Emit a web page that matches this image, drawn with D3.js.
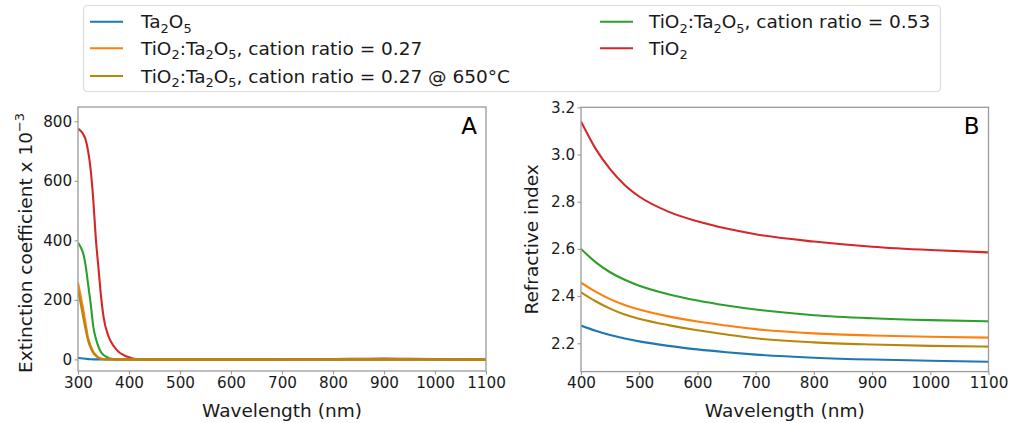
<!DOCTYPE html>
<html>
<head>
<meta charset="utf-8">
<script src="https://cdn.jsdelivr.net/npm/d3@7"></script>
<style>
  html, body { margin: 0; padding: 0; background: #fff; }
  svg { display: block; font-family: "DejaVu Sans", sans-serif; }
</style>
</head>
<body>
<svg id="chart" width="1011" height="423"></svg>
<script>
// ---- Panel A: extinction coefficient (x 10^-3) vs wavelength ----
const kWavelength = [300, 305, 310, 315, 320, 325, 330, 335, 340, 345, 350, 360, 370, 380, 390, 400, 410, 420, 450, 500, 600, 700, 800, 850, 900, 950, 1000, 1050, 1100];
const kTa2O5      = [5, 4, 3, 2, 1, 0.5, 0, 0, 0, 0, 0, 0, 0, 0, 0, 0, 0, 0, 0, 0, 0, 0, 0, 0, 0, 0, 0, 0, 0];
const kMix027     = [258, 215, 170, 120, 71, 45, 26, 15, 7, 3, 1, 0, 0, 0, 0, 0, 0, 0, 0, 0, 0, 0, 0, 0, 0, 0, 0, 0, 0];
const kMix027at650 = [235, 190, 145, 100, 62, 38, 22, 12, 5, 2, 0.5, 0, 0, 0, 0, 0, 0, 0, 0, 0, 0, 0, 0, 0, 0, 0, 0, 0, 0];
const kMix053     = [392, 378, 357, 315, 250, 185, 110, 70, 43, 25, 15, 5, 1, 0, 0, 0, 0, 0, 0, 0, 0, 0, 0, 0, 0, 0, 0, 0, 0];
const kTiO2       = [775, 768, 757, 738, 698, 635, 535, 405, 310, 215, 144, 77, 45, 25, 14, 7, 2, 0, 0, 0, 0, 0, 1, 2, 3, 2, 1, 0, 0];

// ---- Panel B: refractive index vs wavelength ----
const nWavelength = [400, 425, 450, 475, 500, 550, 600, 650, 700, 800, 900, 1000, 1100];
const nTa2O5      = [2.275, 2.253, 2.235, 2.220, 2.208, 2.189, 2.174, 2.162, 2.152, 2.139, 2.131, 2.126, 2.122];
const nMix027     = [2.457, 2.419, 2.387, 2.362, 2.343, 2.314, 2.292, 2.275, 2.260, 2.242, 2.233, 2.228, 2.224];
const nMix027at650 = [2.416, 2.378, 2.347, 2.322, 2.304, 2.277, 2.255, 2.237, 2.221, 2.204, 2.195, 2.189, 2.186];
const nMix053     = [2.600, 2.544, 2.501, 2.469, 2.444, 2.408, 2.381, 2.360, 2.343, 2.319, 2.306, 2.298, 2.293];
const nTiO2       = [3.140, 3.025, 2.938, 2.871, 2.822, 2.758, 2.717, 2.686, 2.662, 2.631, 2.609, 2.595, 2.585];

// ---- Ticks ----
const kXTicks = [300, 400, 500, 600, 700, 800, 900, 1000, 1100];
const kYTicks = [0, 200, 400, 600, 800];
const nXTicks = [400, 500, 600, 700, 800, 900, 1000, 1100];
const nYTicks = [2.2, 2.4, 2.6, 2.8, 3.0, 3.2];

// ---- Series labels (rich text: [text, "sub"|"sup"|undefined]) ----
const seriesNames = ["Ta2O5", "TiO2:Ta2O5 0.27", "TiO2:Ta2O5 0.27 650", "TiO2:Ta2O5 0.53", "TiO2"];
const seriesColors = ["#1f77b4", "#ff7f0e", "#b8860b", "#2ca02c", "#d62728"];
const seriesLabels = [
  [["Ta"], ["2", "sub"], ["O"], ["5", "sub"]],
  [["TiO"], ["2", "sub"], [":Ta"], ["2", "sub"], ["O"], ["5", "sub"], [", cation ratio = 0.27"]],
  [["TiO"], ["2", "sub"], [":Ta"], ["2", "sub"], ["O"], ["5", "sub"], [", cation ratio = 0.27 @ 650°C"]],
  [["TiO"], ["2", "sub"], [":Ta"], ["2", "sub"], ["O"], ["5", "sub"], [", cation ratio = 0.53"]],
  [["TiO"], ["2", "sub"]]
];

const kSeries = [kTa2O5, kMix027, kMix027at650, kMix053, kTiO2];
const nSeries = [nTa2O5, nMix027, nMix027at650, nMix053, nTiO2];

const svg = d3.select("#chart");
const frameColor = "#9a9a9a";
const textColor = "#1a1a1a";
const labelSize = 18.5;
const tickSize = 15.2;

// Writes text with sub/superscripts; each shift is undone on the following run.
function richText(textSel, parts, baseSize) {
  const small = baseSize * 0.7;
  const subShift = baseSize * 0.24;
  const supShift = baseSize * 0.42;
  let offset = 0;
  parts.forEach(([str, kind]) => {
    const t = textSel.append("tspan").text(str);
    let target = 0;
    if (kind === "sub") { target = subShift; t.attr("font-size", small); }
    else if (kind === "sup") { target = -supShift; t.attr("font-size", small); }
    else { t.attr("font-size", baseSize); }
    const dy = target - offset;
    if (dy !== 0) t.attr("dy", dy);
    offset = target;
  });
}

function drawPanel(cfg) {
  const g = svg.append("g");
  const x = d3.scaleLinear().domain(cfg.xDomain).range([cfg.left, cfg.right]);
  const y = d3.scaleLinear().domain(cfg.yDomain).range([cfg.bottom, cfg.top]);

  const clipId = "clip-" + cfg.id;
  svg.append("clipPath").attr("id", clipId)
    .append("rect")
    .attr("x", cfg.left).attr("y", cfg.top)
    .attr("width", cfg.right - cfg.left).attr("height", cfg.bottom - cfg.top);

  const line = d3.line()
    .x(d => x(d[0]))
    .y(d => y(d[1]))
    .curve(d3.curveMonotoneX);

  const plot = g.append("g").attr("clip-path", `url(#${clipId})`);
  cfg.order.forEach(i => {
    const pts = cfg.wavelengths.map((w, j) => [w, cfg.series[i][j]]);
    plot.append("path")
      .datum(pts)
      .attr("d", line)
      .attr("fill", "none")
      .attr("stroke", seriesColors[i])
      .attr("stroke-width", 2.1)
      .attr("stroke-linejoin", "round");
  });

  // x axis
  const xAxis = g.append("g")
    .attr("transform", `translate(0,${cfg.bottom})`)
    .call(d3.axisBottom(x).tickValues(cfg.xTicks).tickSize(3.5).tickPadding(2.3).tickFormat(d3.format("d")));
  // y axis
  const yAxis = g.append("g")
    .attr("transform", `translate(${cfg.left},0)`)
    .call(d3.axisLeft(y).tickValues(cfg.yTicks).tickSize(3.5).tickPadding(2.3).tickFormat(cfg.yFormat));
  [xAxis, yAxis].forEach(a => {
    a.attr("font-size", tickSize).attr("font-family", "DejaVu Sans");
    a.select(".domain").remove();
    a.selectAll(".tick line").attr("stroke", frameColor).attr("stroke-width", 1.1);
    a.selectAll(".tick text").attr("fill", textColor);
  });

  // frame
  g.append("rect")
    .attr("x", cfg.left).attr("y", cfg.top)
    .attr("width", cfg.right - cfg.left).attr("height", cfg.bottom - cfg.top)
    .attr("fill", "none")
    .attr("stroke", frameColor)
    .attr("stroke-width", 1.3);

  // x label
  g.append("text")
    .attr("x", (cfg.left + cfg.right) / 2)
    .attr("y", 417)
    .attr("text-anchor", "middle")
    .attr("font-size", labelSize)
    .attr("fill", textColor)
    .text("Wavelength (nm)");

  // y label
  const yl = g.append("text")
    .attr("transform", `translate(${cfg.yLabelX},${(cfg.top + cfg.bottom) / 2 + cfg.yLabelShift}) rotate(-90)`)
    .attr("text-anchor", "middle")
    .attr("font-size", labelSize)
    .attr("fill", textColor);
  richText(yl, cfg.yLabel, labelSize);

  // panel letter
  g.append("text")
    .attr("x", cfg.right - 9)
    .attr("y", cfg.top + 27)
    .attr("text-anchor", "end")
    .attr("font-size", 23)
    .attr("fill", "#000")
    .text(cfg.letter);
}

drawPanel({
  id: "a", letter: "A",
  left: 78, right: 486, top: 107, bottom: 371,
  xDomain: [300, 1100], yDomain: [-39, 848],
  xTicks: kXTicks, yTicks: kYTicks, yFormat: d3.format("d"),
  wavelengths: kWavelength, series: kSeries,
  order: [4, 3, 0, 1, 2],
  yLabelX: 31.5, yLabelShift: 4,
  yLabel: [["Extinction coefficient x 10"], ["\u22123", "sup"]]
});

drawPanel({
  id: "b", letter: "B",
  left: 581, right: 988.5, top: 107.3, bottom: 371.6,
  xDomain: [400, 1100], yDomain: [2.08, 3.2],
  xTicks: nXTicks, yTicks: nYTicks, yFormat: d3.format(".1f"),
  wavelengths: nWavelength, series: nSeries,
  order: [0, 1, 2, 3, 4],
  yLabelX: 537.5, yLabelShift: 0,
  yLabel: [["Refractive index"]]
});

// ---- Legend ----
const legend = svg.append("g");
legend.append("rect")
  .attr("x", 83.5).attr("y", 5.5)
  .attr("width", 857).attr("height", 86)
  .attr("rx", 4)
  .attr("fill", "#fff")
  .attr("stroke", "#dcdcdc")
  .attr("stroke-width", 1.2);

const legendRows = [21.7, 48.3, 76];
const legendCols = [
  { x0: 90, x1: 123, tx: 141 },
  { x0: 600, x1: 633, tx: 649 }
];
// column-major layout, two columns
const perCol = 3;
seriesNames.forEach((name, i) => {
  const col = legendCols[Math.floor(i / perCol)];
  const yy = legendRows[i % perCol];
  legend.append("line")
    .attr("x1", col.x0).attr("x2", col.x1)
    .attr("y1", yy).attr("y2", yy)
    .attr("stroke", seriesColors[i])
    .attr("stroke-width", 2.1);
  const t = legend.append("text")
    .attr("x", col.tx)
    .attr("y", yy + 6.6)
    .attr("font-size", labelSize)
    .attr("fill", textColor);
  richText(t, seriesLabels[i], labelSize);
});
</script>
</body>
</html>
